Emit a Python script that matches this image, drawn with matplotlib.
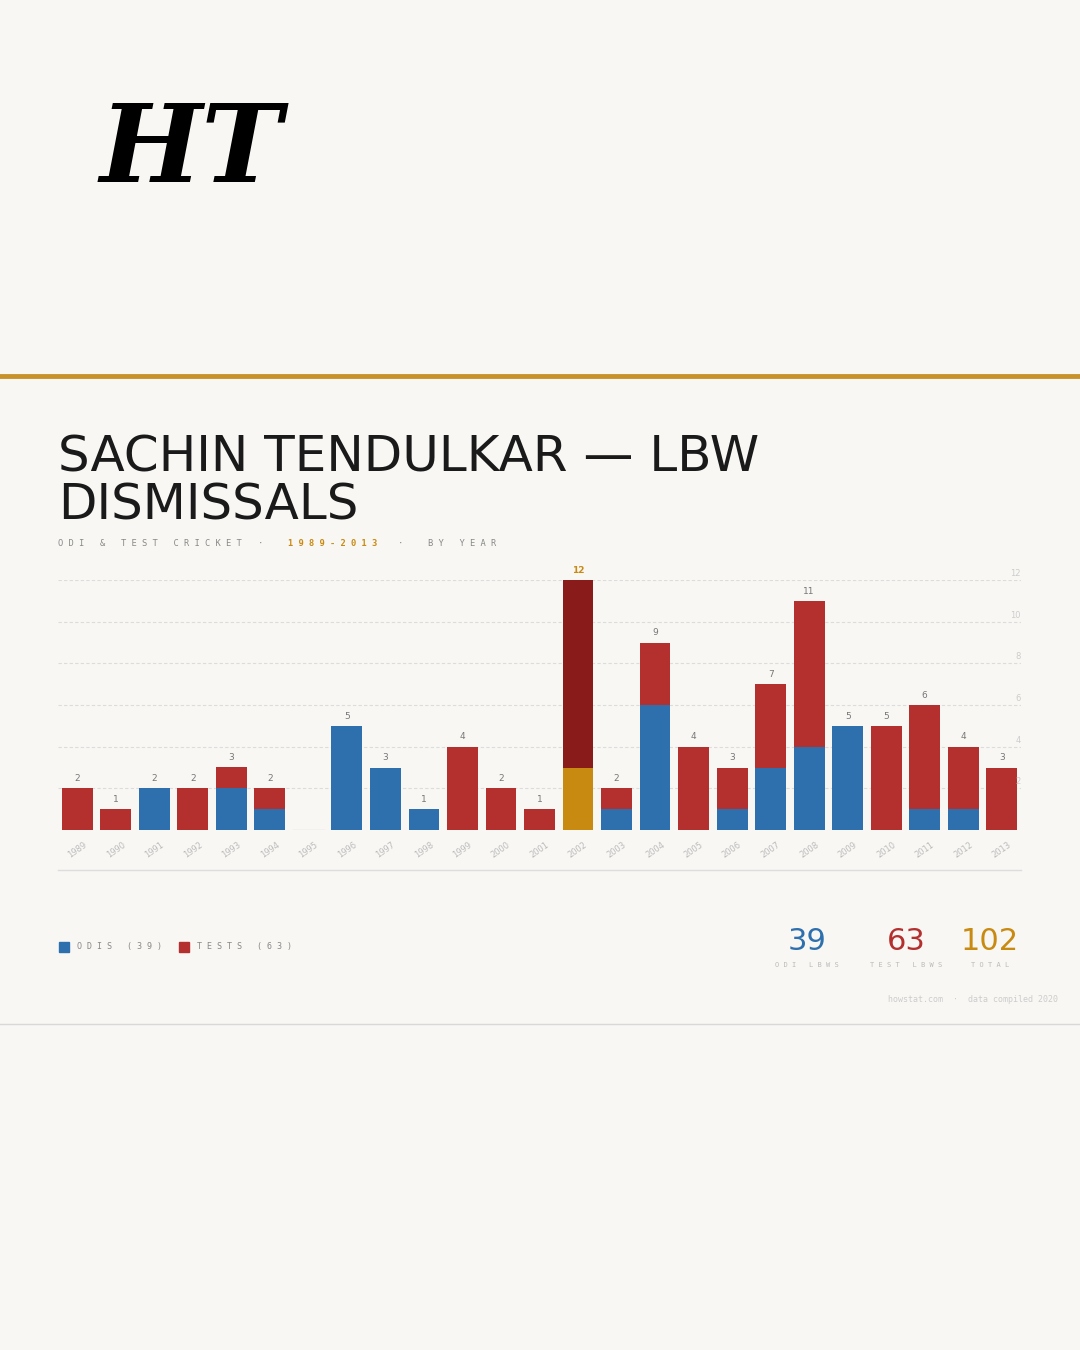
import matplotlib
matplotlib.use("Agg")
import matplotlib.pyplot as plt
import numpy as np

years = [str(y) for y in range(1989, 2014)]
odi =  [0,0,2,0,2,1,0,5,3,1,0,0,0,3,1,6,0,1,3,4,5,0,1,1,0]
test = [2,1,0,2,1,1,0,0,0,0,4,2,1,9,1,3,4,2,4,7,0,5,5,3,3]
highlight = "2002"

BG = "#f8f7f4"
BLUE, RED, DRED, GOLD = "#2e6fae", "#b3302f", "#8a1b1b", "#c98a12"
W, H = 1080, 1350
fig = plt.figure(figsize=(10.8, 13.5), dpi=100, facecolor=BG)

def fx(x): return x / W
def fy(y): return 1 - y / H

fig.text(fx(100), fy(152), "HT", fontsize=78, family="DejaVu Serif", fontweight="bold",
         fontstyle="italic", va="center", ha="left", color="black")
fig.add_artist(plt.Line2D([0, 1], [fy(376)] * 2, color="#c8922a", lw=3.5))
fig.add_artist(plt.Line2D([0, 1], [fy(1024)] * 2, color="#d8d8d8", lw=1))

fig.text(fx(58), fy(458), "SACHIN TENDULKAR — LBW", fontsize=36, color="#1a1a1a", va="center", family="DejaVu Sans")
fig.text(fx(58), fy(506), "DISMISSALS", fontsize=36, color="#1a1a1a", va="center", family="DejaVu Sans")
mono = "DejaVu Sans Mono"
fig.text(fx(58), fy(544), "O D I   &   T E S T   C R I C K E T", fontsize=6.3, color="#888", va="center", family=mono)
fig.text(fx(258), fy(544), "·", fontsize=6.3, color="#888", va="center", family=mono)
fig.text(fx(288), fy(544), "1 9 8 9 - 2 0 1 3", fontsize=6.3, color=GOLD, va="center", family=mono, fontweight="bold")
fig.text(fx(398), fy(544), "·", fontsize=6.3, color="#888", va="center", family=mono)
fig.text(fx(428), fy(544), "B Y   Y E A R", fontsize=6.3, color="#888", va="center", family=mono)

ax = fig.add_axes([fx(58), fy(830), fx(1021) - fx(58), fy(580) - fy(830)])
ax.set_facecolor(BG)
x = np.arange(len(years))
oc = [GOLD if y == highlight else BLUE for y in years]
tc = [DRED if y == highlight else RED for y in years]
ax.bar(x, odi, width=0.8, color=oc)
ax.bar(x, test, width=0.8, bottom=odi, color=tc)
for i, y in enumerate(years):
    t = odi[i] + test[i]
    if t > 0:
        ax.text(i, t + 0.25, str(t), ha="center", va="bottom", fontsize=6.5,
                color=GOLD if y == highlight else "#777", fontweight="bold" if y == highlight else "normal")
    else:
        ax.plot([i - 0.4, i + 0.4], [0, 0], color="#ddd", lw=1)
    ax.text(i, -0.5, y, rotation=35, ha="center", va="top", fontsize=6, color="#bbb")
ax.set_xlim(-0.5, len(years) - 0.5)
ax.set_ylim(0, 12)
for g in range(2, 13, 2):
    ax.axhline(g, color="#dcdcdc", lw=0.8, ls=(0, (3, 2)), zorder=0)
    ax.text(len(years) - 0.5, g + 0.1, str(g), ha="right", va="bottom", fontsize=6, color="#ccc")
for s in ax.spines.values():
    s.set_visible(False)
ax.set_xticks([]); ax.set_yticks([])

fig.add_artist(plt.Line2D([fx(58), fx(1021)], [fy(870)] * 2, color="#ddd", lw=1))

fig.add_artist(plt.Rectangle((fx(59), fy(952)), fx(10), 10 / H, color=BLUE))
fig.text(fx(77), fy(947), "O D I S   ( 3 9 )", fontsize=6, color="#888", va="center", family=mono)
fig.add_artist(plt.Rectangle((fx(179), fy(952)), fx(10), 10 / H, color=RED))
fig.text(fx(197), fy(947), "T E S T S   ( 6 3 )", fontsize=6, color="#888", va="center", family=mono)

for xc, val, lab, col in [(807, "39", "O D I   L B W S", BLUE), (906, "63", "T E S T   L B W S", RED), (990, "102", "T O T A L", GOLD)]:
    fig.text(fx(xc), fy(942), val, fontsize=22, color=col, ha="center", va="center")
    fig.text(fx(xc), fy(965), lab, fontsize=5, color="#bbb", ha="center", va="center", family=mono)
fig.text(fx(1058), fy(1000), "howstat.com  ·  data compiled 2020", fontsize=6, color="#ccc", ha="right", va="center", family=mono)

fig.savefig("out.png", dpi=100, facecolor=BG)
